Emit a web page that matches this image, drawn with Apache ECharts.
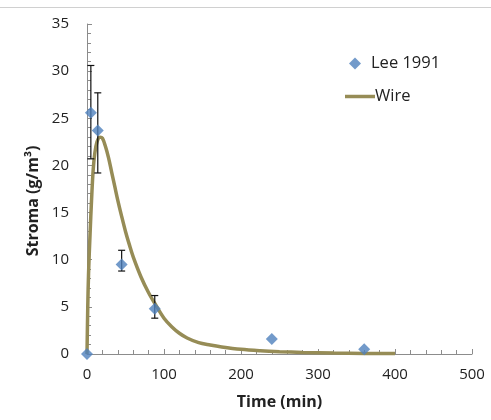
<!DOCTYPE html>
<html>
<head>
<meta charset="utf-8">
<script src="https://cdn.jsdelivr.net/npm/echarts@6/dist/echarts.min.js"></script>
<style>html,body{margin:0;padding:0;background:#fff;}#c{width:491px;height:420px;}</style>
</head>
<body>
<div id="c"></div>
<script>
// Measured data (Lee 1991)
var leeTime = [0, 5, 14, 45, 88, 240, 360];
var leeValue = [0, 25.6, 23.7, 9.5, 4.8, 1.6, 0.5];
var errHigh = [null, 30.6, 27.7, 11.0, 6.2, null, null];
var errLow = [null, 20.7, 19.2, 8.8, 3.8, null, null];
// Model curve (Wire)
var wireTime = [0, 1, 2, 4, 6, 8, 10, 13, 17, 20, 24, 28, 32, 36, 40, 45, 50, 55, 60, 70, 80, 90, 100, 110, 120, 130, 145, 160, 175, 200, 225, 250, 280, 320, 360, 400];
var wireValue = [0, 5, 8.5, 12.8, 16.5, 19.5, 21.2, 22.5, 23, 22.9, 22, 20.8, 19.3, 17.8, 16.3, 14.6, 13.0, 11.6, 10.3, 8.2, 6.5, 5.1, 3.8, 2.9, 2.2, 1.7, 1.2, 0.95, 0.75, 0.5, 0.35, 0.25, 0.17, 0.1, 0.06, 0.04];
var xTicks = [0, 100, 200, 300, 400, 500];
var yTicks = [0, 5, 10, 15, 20, 25, 30, 35];

var leeData = leeTime.map(function (t, i) { return [t, leeValue[i]]; });
var wireData = wireTime.map(function (t, i) { return [t, wireValue[i]]; });
var errData = [];
leeTime.forEach(function (t, i) {
  if (errHigh[i] != null) errData.push([t, errLow[i], errHigh[i]]);
});

var FONT = '"Open Sans", sans-serif';
var chart = echarts.init(document.getElementById('c'), null, {renderer: 'canvas'});
chart.setOption({
  animation: false,
  backgroundColor: '#fff',
  grid: {left: 87, right: 19, top: 24, bottom: 66, containLabel: false},
  graphic: [{
    type: 'line', shape: {x1: 0, y1: 7.5, x2: 491, y2: 7.5},
    style: {stroke: '#d0d0d0', lineWidth: 1}, silent: true
  }],
  legend: [{
    data: ['Lee 1991'], left: 344, top: 50, orient: 'vertical',
    itemWidth: 12, itemHeight: 12,
    textStyle: {fontFamily: FONT, fontSize: 16.5, color: '#222', padding: [0, 0, 0, 5]}
  }, {
    data: [{name: 'Wire', icon: 'rect'}], left: 340, top: 83, orient: 'vertical',
    itemWidth: 30, itemHeight: 3.5,
    itemStyle: {color: '#968c56'},
    textStyle: {fontFamily: FONT, fontSize: 16.5, color: '#222', padding: [0, 0, 0, -5]}
  }],
  xAxis: {
    type: 'value', min: 0, max: 500, interval: 100,
    name: 'Time (min)', nameLocation: 'middle', nameGap: 40,
    nameTextStyle: {fontFamily: FONT, fontSize: 16, fontWeight: 'bold', color: '#222'},
    axisLine: {show: true, lineStyle: {color: '#8c8c8c', width: 1}},
    axisTick: {show: true, inside: true, length: 5, lineStyle: {color: '#8c8c8c'}},
    minorTick: {show: true, splitNumber: 5, length: 4, lineStyle: {color: '#8c8c8c'}},
    splitLine: {show: false},
    axisLabel: {fontFamily: FONT, fontSize: 15, color: '#222', margin: 13,
      formatter: function (v) { return xTicks.indexOf(v) >= 0 ? String(v) : ''; }}
  },
  yAxis: {
    type: 'value', min: 0, max: 35, interval: 5,
    name: 'Stroma (g/m³)', nameLocation: 'middle', nameGap: 44, nameRotate: 90,
    nameTextStyle: {fontFamily: FONT, fontSize: 16, fontWeight: 'bold', color: '#222', padding: [0, 24, 0, 0]},
    axisLine: {show: true, lineStyle: {color: '#8c8c8c', width: 1}},
    axisTick: {show: true, inside: true, length: 5, lineStyle: {color: '#8c8c8c'}},
    minorTick: {show: true, splitNumber: 5, length: 4, lineStyle: {color: '#8c8c8c'}},
    splitLine: {show: false},
    axisLabel: {fontFamily: FONT, fontSize: 15, color: '#222', margin: 18,
      formatter: function (v) { return yTicks.indexOf(v) >= 0 ? String(v) : ''; }}
  },
  series: [{
    name: 'Wire', type: 'line', data: wireData, smooth: 0.35,
    showSymbol: false, symbol: 'none', clip: false,
    lineStyle: {color: '#968c56', width: 3.5},
    itemStyle: {color: '#968c56'}, z: 2
  }, {
    name: 'err', type: 'custom', data: errData, z: 3, clip: false,
    renderItem: function (params, api) {
      var x = api.value(0);
      var lo = api.coord([x, api.value(1)]);
      var hi = api.coord([x, api.value(2)]);
      var w = 3.5;
      var st = {stroke: '#111', lineWidth: 1.2};
      return {type: 'group', children: [
        {type: 'line', shape: {x1: lo[0], y1: lo[1], x2: hi[0], y2: hi[1]}, style: st},
        {type: 'line', shape: {x1: lo[0] - w, y1: lo[1], x2: lo[0] + w, y2: lo[1]}, style: st},
        {type: 'line', shape: {x1: hi[0] - w, y1: hi[1], x2: hi[0] + w, y2: hi[1]}, style: st}
      ]};
    }
  }, {
    name: 'Lee 1991', type: 'scatter', data: leeData, symbol: 'diamond', symbolSize: 12,
    clip: false, itemStyle: {color: '#4f81bd'}, z: 4
  }]
});
</script>
</body>
</html>
